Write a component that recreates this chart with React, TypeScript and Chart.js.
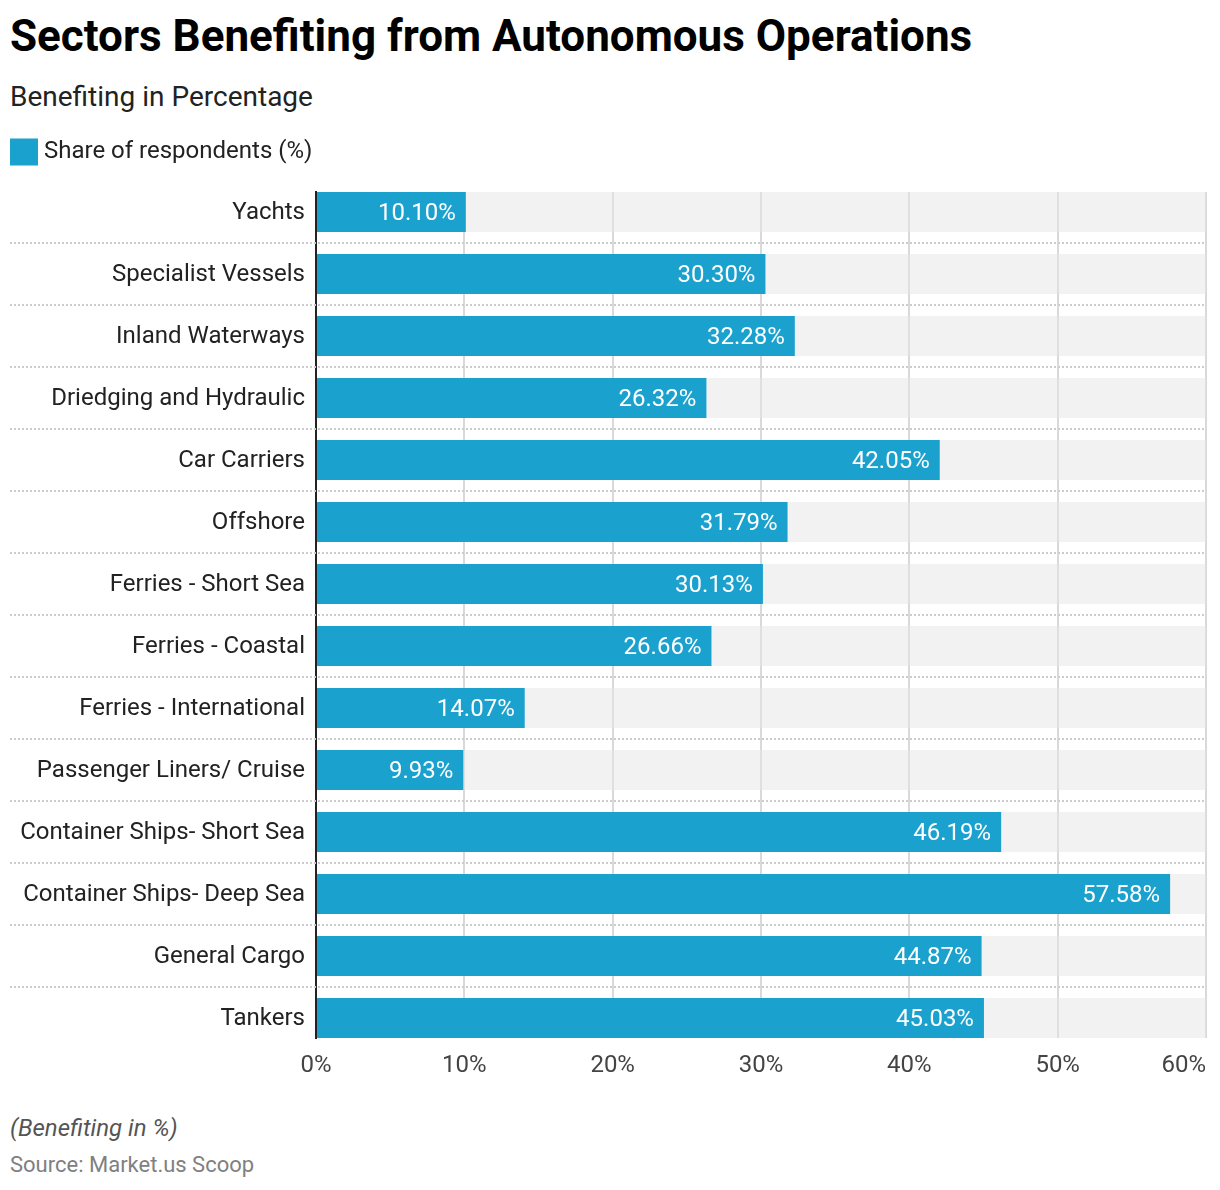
import { useEffect, useRef } from 'react';
import { Chart, registerables } from 'chart.js';

Chart.register(...registerables);

// ---- data ----
const categories = [
  'Yachts',
  'Specialist Vessels',
  'Inland Waterways',
  'Driedging and Hydraulic',
  'Car Carriers',
  'Offshore',
  'Ferries - Short Sea',
  'Ferries - Coastal',
  'Ferries - International',
  'Passenger Liners/ Cruise',
  'Container Ships- Short Sea',
  'Container Ships- Deep Sea',
  'General Cargo',
  'Tankers',
];
const shares = [10.1, 30.3, 32.28, 26.32, 42.05, 31.79, 30.13, 26.66, 14.07, 9.93, 46.19, 57.58, 44.87, 45.03];
const seriesLabel = 'Share of respondents (%)';
const X_MIN = 0;
const X_MAX = 60;
const X_STEP = 10;

// ---- styles ----
const FONT = 'Roboto, "Noto Sans", sans-serif';
const BAR_COLOR = '#1ba1cd';
const TRACK_COLOR = 'rgba(230,230,230,0.5)';
const LABEL_SIZE = 24;
const EDGE = 20 / 62; // half bar thickness relative to row pitch

export default function App() {
  const ref = useRef<HTMLCanvasElement>(null);

  useEffect(() => {
    document.body.style.margin = '0';
    const canvas = ref.current;
    if (!canvas) return;

    const valueLabels = {
      id: 'valueLabels',
      afterDatasetsDraw(chart: any) {
        const meta = chart.getDatasetMeta(0);
        const ctx = chart.ctx;
        ctx.save();
        ctx.fillStyle = '#ffffff';
        ctx.font = `${LABEL_SIZE}px ${FONT}`;
        ctx.textAlign = 'right';
        ctx.textBaseline = 'middle';
        meta.data.forEach((bar: any, i: number) => {
          ctx.fillText(shares[i].toFixed(2) + '%', bar.x - 10, bar.y + 2);
        });
        ctx.restore();
      },
    };

    const separators = {
      id: 'separators',
      beforeDatasetsDraw(chart: any) {
        const ys = chart.scales.y;
        const ctx = chart.ctx;
        ctx.save();
        ctx.strokeStyle = '#cccccc';
        ctx.lineWidth = 2;
        ctx.setLineDash([2, 2]);
        for (let i = 0; i < categories.length - 1; i++) {
          const y = Math.round(ys.getPixelForValue(i + 0.5));
          ctx.beginPath();
          ctx.moveTo(10, y);
          ctx.lineTo(chart.chartArea.right, y);
          ctx.stroke();
        }
        ctx.restore();
      },
    };

    const firstTickCenter = {
      id: 'firstTickCenter',
      beforeDraw(chart: any) {
        const items = chart.scales.x.getLabelItems();
        if (items && items.length) items[0].options.textAlign = 'center';
      },
    };

    const defaultLabels = (Chart.defaults as any).plugins.legend.labels.generateLabels;

    const chart = new Chart(canvas, {
      type: 'bar',
      data: {
        datasets: [
          {
            label: seriesLabel,
            data: shares.map((v, i) => ({ x: v, y: i })),
            backgroundColor: BAR_COLOR,
            borderWidth: 0,
            grouped: false,
            barPercentage: 40 / 62,
            categoryPercentage: 1,
            xAxisID: 'x',
            yAxisID: 'y',
          },
          {
            label: 'track',
            data: categories.map((_, i) => ({ x: X_MAX, y: i })),
            backgroundColor: TRACK_COLOR,
            borderWidth: 0,
            grouped: false,
            barPercentage: 40 / 62,
            categoryPercentage: 1,
            xAxisID: 'x',
            yAxisID: 'y',
          },
        ] as any,
      },
      options: {
        indexAxis: 'y',
        animation: false,
        responsive: false,
        events: [],
        layout: { padding: { left: 0, right: 12, top: 0, bottom: 2 } },
        plugins: {
          tooltip: { enabled: false },
          legend: {
            display: true,
            position: 'top',
            align: 'start',
            labels: {
              generateLabels: (c: any) =>
                defaultLabels(c)
                  .filter((item: any) => item.datasetIndex === 0)
                  .map((item: any) => ({ ...item, lineWidth: 12, strokeStyle: BAR_COLOR, lineJoin: 'miter' })),
              boxWidth: 16,
              boxHeight: 15,
              padding: 16,
              color: '#222222',
              font: { family: FONT, size: LABEL_SIZE },
            },
          },
        },
        scales: {
          x: {
            type: 'linear',
            position: 'bottom',
            min: X_MIN,
            max: X_MAX,
            grid: { color: '#d9d9d9', lineWidth: 2, drawTicks: false },
            border: { display: false },
            ticks: {
              stepSize: X_STEP,
              align: 'inner',
              padding: 14,
              color: '#444444',
              font: { family: FONT, size: LABEL_SIZE },
              callback: (v: any) => v + '%',
            },
            afterFit: (s: any) => {
              s.height = 50;
            },
          },
          xTop: {
            type: 'linear',
            position: 'top',
            display: true,
            grid: { display: false, drawTicks: false },
            border: { display: false },
            ticks: { display: false },
            afterFit: (s: any) => {
              s.height = 18;
            },
          },
          y: {
            type: 'linear',
            reverse: true,
            offset: false,
            min: -EDGE,
            max: categories.length - 1 + EDGE,
            z: 1,
            grid: { display: false, drawTicks: false },
            border: { display: true, color: '#222222', width: 2 },
            afterBuildTicks: (s: any) => {
              s.ticks = categories.map((_, i) => ({ value: i }));
            },
            afterFit: (s: any) => {
              s.width = 316;
            },
            ticks: {
              autoSkip: false,
              padding: 11,
              labelOffset: 1,
              color: '#222222',
              font: { family: FONT, size: LABEL_SIZE },
              callback: (v: any) => categories[v as number] ?? '',
            },
          },
        } as any,
      },
      plugins: [valueLabels, separators, firstTickCenter],
    } as any);

    return () => chart.destroy();
  }, []);

  return (
    <div
      style={{
        position: 'absolute',
        left: 0,
        top: 0,
        width: 1220,
        height: 1190,
        overflow: 'hidden',
        background: '#ffffff',
        fontFamily: FONT,
      }}
    >
      <div style={{ position: 'absolute', left: 10, top: 14, fontSize: 44, fontWeight: 700, lineHeight: 1, color: '#000', whiteSpace: 'nowrap' }}>
        Sectors Benefiting from Autonomous Operations
      </div>
      <div style={{ position: 'absolute', left: 10, top: 83, fontSize: 28, lineHeight: 1, color: '#222', whiteSpace: 'nowrap' }}>
        Benefiting in Percentage
      </div>
      <canvas ref={ref} width={1220} height={966} style={{ position: 'absolute', left: 0, top: 124, width: 1220, height: 966 }} />
      <div style={{ position: 'absolute', left: 10, top: 1116, fontSize: 24, fontStyle: 'italic', lineHeight: 1, color: '#555', whiteSpace: 'nowrap' }}>
        (Benefiting in %)
      </div>
      <div style={{ position: 'absolute', left: 10, top: 1154, fontSize: 22, lineHeight: 1, color: '#808080', whiteSpace: 'nowrap' }}>
        Source: Market.us Scoop
      </div>
    </div>
  );
}
